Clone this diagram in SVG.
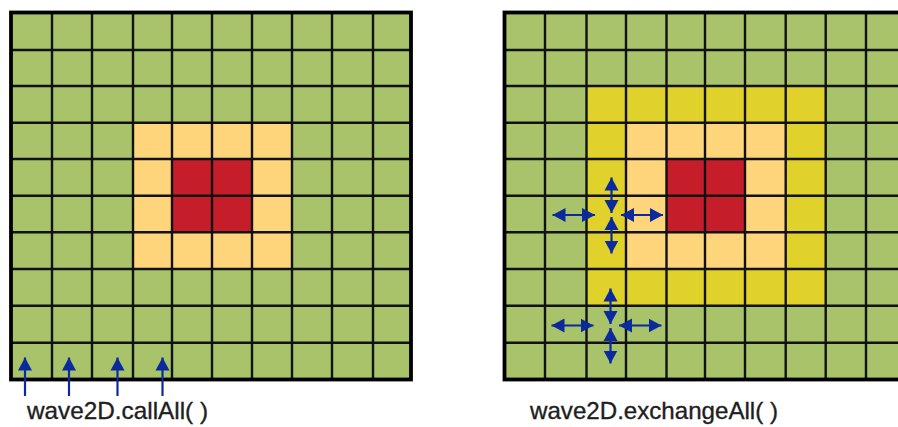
<svg xmlns="http://www.w3.org/2000/svg" width="898" height="427" viewBox="0 0 898 427">
  <style>
    .green { fill: #a8c36a; }
    .orange { fill: #fed57a; }
    .red { fill: #c61d2b; }
    .yellow { fill: #e0d22b; }
    .grid { fill: none; stroke: #111; stroke-width: 2.4; }
    .border { fill: none; stroke: #000; stroke-width: 3.8; }
    .arrow { stroke: #0b2a9e; stroke-width: 2.2; fill: none; }
    .label { font-family: "Liberation Sans", Arial, sans-serif; font-size: 24px; fill: #1e1e1e; stroke: #1e1e1e; stroke-width: 0.35; }
  </style>
  <defs>
    <marker id="head" markerUnits="userSpaceOnUse" markerWidth="14" markerHeight="15" refX="13" refY="7.5" orient="auto-start-reverse">
      <path d="M0,0.5 L13,7.5 L0,14.5 z" fill="#0b2a9e"/>
    </marker>
  </defs>
  <rect width="898" height="427" fill="#ffffff"/>

  <g id="left-grid">
    <rect class="green" x="11" y="12.5" width="400" height="367"/>
    <rect class="orange" x="133" y="122.7" width="159" height="146.3"/>
    <rect class="red" x="172" y="159" width="80" height="73.3"/>
    <path class="grid" d="M52,12.5V379.5 M92,12.5V379.5 M133,12.5V379.5 M172,12.5V379.5 M212,12.5V379.5 M252,12.5V379.5 M292,12.5V379.5 M332,12.5V379.5 M373,12.5V379.5 M11,50H411 M11,86H411 M11,122.7H411 M11,159H411 M11,195.7H411 M11,232.3H411 M11,269H411 M11,305.7H411 M11,342.7H411"/>
    <rect class="border" x="11" y="12.5" width="400" height="367"/>
  </g>

  <g id="right-grid">
    <rect class="green" x="504.5" y="12.5" width="402" height="367"/>
    <rect class="yellow" x="586.5" y="86" width="239.2" height="219.7"/>
    <rect class="orange" x="626" y="122.7" width="159.7" height="146.3"/>
    <rect class="red" x="666.5" y="159" width="78.5" height="73.3"/>
    <path class="grid" d="M545,12.5V379.5 M586.5,12.5V379.5 M626,12.5V379.5 M666.5,12.5V379.5 M705,12.5V379.5 M745,12.5V379.5 M785.7,12.5V379.5 M825.7,12.5V379.5 M866,12.5V379.5 M504.5,50H906 M504.5,86H906 M504.5,122.7H906 M504.5,159H906 M504.5,195.7H906 M504.5,232.3H906 M504.5,269H906 M504.5,305.7H906 M504.5,342.7H906"/>
    <rect class="border" x="504.5" y="12.5" width="402" height="367"/>
  </g>

  <g id="connectors">
    <!-- callAll arrows -->
    <line class="arrow" x1="25" y1="396" x2="25" y2="357.5" marker-end="url(#head)"/>
    <line class="arrow" x1="69" y1="396" x2="69" y2="357.5" marker-end="url(#head)"/>
    <line class="arrow" x1="117.5" y1="396" x2="117.5" y2="357.5" marker-end="url(#head)"/>
    <line class="arrow" x1="162.5" y1="396" x2="162.5" y2="357.5" marker-end="url(#head)"/>
    <!-- exchange cluster 1 -->
    <line class="arrow" x1="552.5" y1="215" x2="595" y2="215" marker-start="url(#head)" marker-end="url(#head)"/>
    <line class="arrow" x1="621" y1="215" x2="663" y2="215" marker-start="url(#head)" marker-end="url(#head)"/>
    <line class="arrow" x1="611.5" y1="177.5" x2="611.5" y2="213" marker-start="url(#head)" marker-end="url(#head)"/>
    <line class="arrow" x1="611.5" y1="217" x2="611.5" y2="253.5" marker-start="url(#head)" marker-end="url(#head)"/>
    <!-- exchange cluster 2 -->
    <line class="arrow" x1="551.5" y1="325.5" x2="593.5" y2="325.5" marker-start="url(#head)" marker-end="url(#head)"/>
    <line class="arrow" x1="619" y1="325.5" x2="661.5" y2="325.5" marker-start="url(#head)" marker-end="url(#head)"/>
    <line class="arrow" x1="610.5" y1="288.5" x2="610.5" y2="324" marker-start="url(#head)" marker-end="url(#head)"/>
    <line class="arrow" x1="610.5" y1="328" x2="610.5" y2="363.5" marker-start="url(#head)" marker-end="url(#head)"/>
  </g>

  <g id="labels">
    <text class="label" x="27" y="419" textLength="181" lengthAdjust="spacingAndGlyphs">wave2D.callAll( )</text>
    <text class="label" x="530" y="419" textLength="248" lengthAdjust="spacingAndGlyphs">wave2D.exchangeAll( )</text>
  </g>
</svg>
